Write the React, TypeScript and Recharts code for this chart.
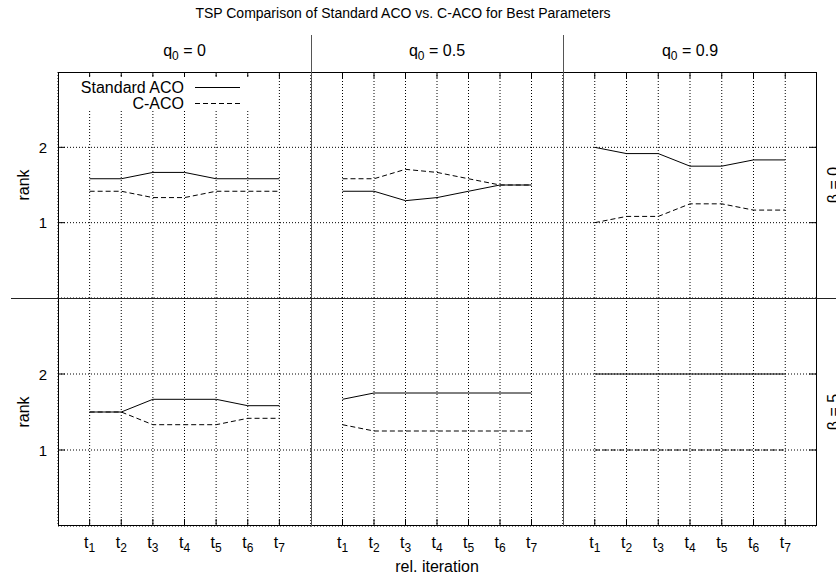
import React from 'react';
import { LineChart, Line, XAxis, YAxis, CartesianGrid, Legend } from 'recharts';

// relative iteration ticks t1..t7, placed at 1..7 on a 0..8 axis
const iterations = ['1', '2', '3', '4', '5', '6', '7'];
const iterationPos = [1, 2, 3, 4, 5, 6, 7];
const rankTicks = [1, 2];
const q0Labels = ['0', '0.5', '0.9'];
const betaLabels = ['0', '5'];
const seriesOrder = ['standard', 'caco'];

// beta = 0
const standardB0Q0 = [1.583, 1.583, 1.667, 1.667, 1.583, 1.583, 1.583];
const cacoB0Q0 = [1.417, 1.417, 1.333, 1.333, 1.417, 1.417, 1.417];
const standardB0Q05 = [1.417, 1.417, 1.292, 1.333, 1.417, 1.5, 1.5];
const cacoB0Q05 = [1.583, 1.583, 1.708, 1.667, 1.583, 1.5, 1.5];
const standardB0Q09 = [2.0, 1.917, 1.917, 1.75, 1.75, 1.833, 1.833];
const cacoB0Q09 = [1.0, 1.083, 1.083, 1.25, 1.25, 1.167, 1.167];

// beta = 5
const standardB5Q0 = [1.5, 1.5, 1.667, 1.667, 1.667, 1.583, 1.583];
const cacoB5Q0 = [1.5, 1.5, 1.333, 1.333, 1.333, 1.417, 1.417];
const standardB5Q05 = [1.667, 1.75, 1.75, 1.75, 1.75, 1.75, 1.75];
const cacoB5Q05 = [1.333, 1.25, 1.25, 1.25, 1.25, 1.25, 1.25];
const standardB5Q09 = [2, 2, 2, 2, 2, 2, 2];
const cacoB5Q09 = [1, 1, 1, 1, 1, 1, 1];

const panels = [
  { row: 0, col: 0, standard: standardB0Q0, caco: cacoB0Q0 },
  { row: 0, col: 1, standard: standardB0Q05, caco: cacoB0Q05 },
  { row: 0, col: 2, standard: standardB0Q09, caco: cacoB0Q09 },
  { row: 1, col: 0, standard: standardB5Q0, caco: cacoB5Q0 },
  { row: 1, col: 1, standard: standardB5Q05, caco: cacoB5Q05 },
  { row: 1, col: 2, standard: standardB5Q09, caco: cacoB5Q09 },
];

const FONT = '"Liberation Sans", Arial, Helvetica, sans-serif';
const colEdges = [58, 311, 563, 817];
const rowEdges = [72, 298, 526];

const renderLegend = (props: any) => {
  const payload = [...(props.payload || [])].sort(
    (a: any, b: any) => seriesOrder.indexOf(a.dataKey) - seriesOrder.indexOf(b.dataKey)
  );
  return (
    <svg width={180} height={34} style={{ display: 'block', background: '#fff' }}>
      {payload.map((e: any, i: number) => (
        <g key={i}>
          <text x={114} y={10.5 + i * 16} textAnchor="end" dominantBaseline="central"
            fontFamily={FONT} fontSize={16} fill="#000">{e.value}</text>
          <line x1={125} x2={170} y1={10.5 + i * 16} y2={10.5 + i * 16} stroke="#000"
            strokeWidth={1} strokeDasharray={e.payload?.strokeDasharray} />
        </g>
      ))}
    </svg>
  );
};

function Panel({ row, col, standard, caco }: any) {
  const plotLeft = colEdges[col];
  const plotW = colEdges[col + 1] - plotLeft;
  const plotTop = rowEdges[row];
  const plotH = rowEdges[row + 1] - plotTop;
  const leftW = col === 0 ? 50 : 1;
  const bottomH = row === 1 ? 52 : 1;

  const data = iterationPos.map((x, i) => ({ x, standard: standard[i], caco: caco[i] }));

  const XTick = (p: any) => {
    const { x, y, payload } = p;
    const label = iterations[iterationPos.indexOf(payload.value)];
    if (row === 0) {
      return <line x1={x} x2={x} y1={y - plotH} y2={y - plotH + 6} stroke="#000" />;
    }
    return (
      <g>
        <line x1={x} x2={x} y1={y} y2={y - 7} stroke="#000" />
        <text x={x} y={y + 22} textAnchor="middle" fontFamily={FONT} fontSize={16} fill="#000">
          <tspan>t</tspan>
          <tspan dy={4} fontSize={12}>{label}</tspan>
        </text>
      </g>
    );
  };

  const YTick = (p: any) => {
    const { x, y, payload } = p;
    if (col === 0) {
      return (
        <g>
          <line x1={x} x2={x + 7} y1={y} y2={y} stroke="#000" />
          <text x={x - 11} y={y} textAnchor="end" dominantBaseline="central"
            fontFamily={FONT} fontSize={15} fill="#000">{payload.value}</text>
        </g>
      );
    }
    if (col === 2) {
      return <line x1={x + plotW - 8} x2={x + plotW} y1={y} y2={y} stroke="#000" />;
    }
    return <g />;
  };

  return (
    <div style={{ position: 'absolute', left: plotLeft - leftW, top: plotTop }}>
      <LineChart width={plotW + leftW} height={plotH + bottomH} data={data}
        margin={{ top: 0, right: 0, bottom: 0, left: 0 }}>
        <CartesianGrid stroke="#000" strokeDasharray="1 2" strokeWidth={1} />
        <XAxis dataKey="x" type="number" domain={[0, 8]} ticks={iterationPos} interval={0}
          height={bottomH} axisLine={false} tickLine={false} tickSize={0} tickMargin={0}
          tick={XTick} allowDataOverflow />
        <YAxis type="number" domain={[0, 3]} ticks={rankTicks} interval={0} width={leftW}
          axisLine={false} tickLine={false} tickSize={0} tickMargin={0} tick={YTick}
          allowDataOverflow />
        {row === 0 && col === 0 && (
          <Legend layout="vertical" align="center" verticalAlign="middle" content={renderLegend}
            wrapperStyle={{ left: 62, top: 5, width: 180, height: 34 }} />
        )}
        <Line type="linear" dataKey="standard" name="Standard ACO" stroke="#000" strokeWidth={1}
          dot={false} isAnimationActive={false} />
        <Line type="linear" dataKey="caco" name="C-ACO" stroke="#000" strokeWidth={1}
          strokeDasharray="5 3" dot={false} isAnimationActive={false} />
      </LineChart>
    </div>
  );
}

const abs = (s: React.CSSProperties): React.CSSProperties => ({ position: 'absolute', ...s });

export default function App() {
  const colCenters = [0, 1, 2].map((c) => (colEdges[c] + colEdges[c + 1]) / 2);
  const rowCenters = [0, 1].map((r) => (rowEdges[r] + rowEdges[r + 1]) / 2);
  return (
    <div style={abs({ left: 0, top: 0, width: 836, height: 578, background: '#fff', overflow: 'hidden', fontFamily: FONT, color: '#000' })}>
      <div style={abs({ left: 0, width: 806, top: 4, textAlign: 'center', fontSize: 14, lineHeight: '18px' })}>
        TSP Comparison of Standard ACO vs. C-ACO for Best Parameters
      </div>
      {q0Labels.map((q, i) => (
        <div key={q} style={abs({ left: colCenters[i] - 80, width: 160, top: 42, textAlign: 'center', fontSize: 16, lineHeight: '18px' })}>
          q<sub style={{ fontSize: 12, verticalAlign: -4, lineHeight: 0 }}>0</sub> = {q}
        </div>
      ))}
      {rowCenters.map((cy, i) => (
        <div key={'rank' + i} style={abs({ left: 24 - 30, top: cy - 9, width: 60, textAlign: 'center', fontSize: 16, lineHeight: '18px', transform: 'rotate(-90deg)' })}>
          rank
        </div>
      ))}
      {rowCenters.map((cy, i) => (
        <div key={'beta' + i} style={abs({ left: 834 - 40, top: cy - 9, width: 80, textAlign: 'center', fontSize: 16, lineHeight: '18px', transform: 'rotate(-90deg)' })}>
          β = {betaLabels[i]}
        </div>
      ))}
      <div style={abs({ left: colCenters[1] - 80, width: 160, top: 558, textAlign: 'center', fontSize: 16, lineHeight: '18px' })}>
        rel. iteration
      </div>

      {panels.map((p) => (
        <Panel key={p.row + '-' + p.col} {...p} />
      ))}

      {/* frame and panel separators */}
      <div style={abs({ left: 58, top: 72, width: 817 - 58, height: 526 - 72, border: '1px solid #000', boxSizing: 'border-box', pointerEvents: 'none' })} />
      <div style={abs({ left: 310.5, top: 35, width: 1.5, height: 526 - 35, background: '#555' })} />
      <div style={abs({ left: 562.5, top: 35, width: 1.5, height: 526 - 35, background: '#555' })} />
      <div style={abs({ left: 11, top: 297.5, width: 836 - 11, height: 1.5, background: '#222' })} />
    </div>
  );
}
